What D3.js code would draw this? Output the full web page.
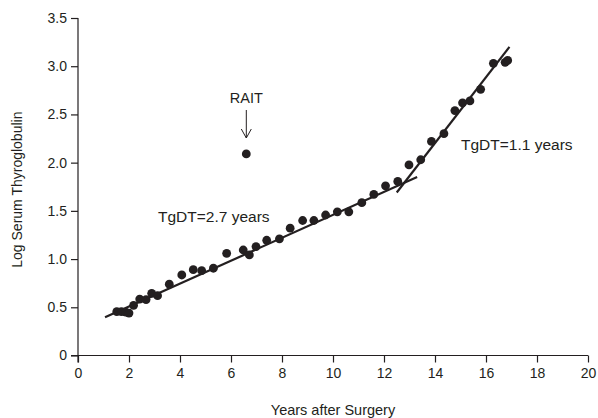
<!DOCTYPE html>
<html>
<head>
<meta charset="utf-8">
<script src="https://cdn.jsdelivr.net/npm/d3@7"></script>
<style>
  body { margin: 0; background: #fff; }
  svg text { font-family: "Liberation Sans", Arial, sans-serif; fill: #231f20; }
  .axis path, .axis line { stroke: #231f20; stroke-width: 1.2; }
  .axis text { font-size: 14px; }
</style>
</head>
<body>
<div id="chart"></div>
<script>
// years after surgery and log serum thyroglobulin
var years = [1.52, 1.7, 1.87, 2.0, 2.18, 2.42, 2.67, 2.89, 3.12, 3.58, 4.07, 4.52, 4.85, 5.31,
             5.83, 6.48, 6.72, 6.98, 7.4, 7.9, 8.32, 8.81, 9.25, 9.71, 10.17, 10.62, 11.13,
             11.6, 12.06, 12.54, 12.98, 13.44, 13.86, 14.35, 14.78, 15.08, 15.37, 15.79,
             16.29, 16.75, 16.85];
var logTg = [0.455, 0.455, 0.45, 0.44, 0.52, 0.585, 0.58, 0.645, 0.62, 0.74, 0.835, 0.89, 0.88, 0.905,
             1.06, 1.094, 1.043, 1.13, 1.195, 1.21, 1.32, 1.40, 1.40, 1.457, 1.49, 1.49, 1.585,
             1.67, 1.76, 1.805, 1.976, 2.03, 2.22, 2.30, 2.54, 2.62, 2.64, 2.76,
             3.03, 3.04, 3.06];
var raitPoint = [6.6, 2.09];
// fitted regression segments [x0, y0, x1, y1]
var fitSlow = [1.06, 0.396, 13.3, 1.85];
var fitFast = [12.5, 1.69, 16.92, 3.2];
var xTicks = [0, 2, 4, 6, 8, 10, 12, 14, 16, 18, 20];
var yTicks = [0, 0.5, 1.0, 1.5, 2.0, 2.5, 3.0, 3.5];

var width = 598, height = 418;
var margin = {top: 18, right: 10, bottom: 62.5, left: 78};

var x = d3.scaleLinear().domain([0, 20]).range([margin.left, 588]);
var y = d3.scaleLinear().domain([0, 3.5]).range([height - margin.bottom, margin.top]);

var svg = d3.select("#chart").append("svg")
    .attr("width", width)
    .attr("height", height);

svg.append("g")
    .attr("class", "axis")
    .attr("transform", "translate(0," + y(0) + ")")
    .call(d3.axisBottom(x).tickValues(xTicks).tickSize(7).tickSizeOuter(0).tickPadding(6))
    .call(g => g.select(".domain").attr("d", "M" + (x(0) - 7) + ",0H" + x(20)));

svg.append("g")
    .attr("class", "axis")
    .attr("transform", "translate(" + x(0) + ",0)")
    .call(d3.axisLeft(y).tickValues(yTicks).tickSize(7).tickSizeOuter(0).tickPadding(4)
        .tickFormat(d => d === 0 ? "0" : d3.format(".1f")(d)))
    .call(g => g.select(".domain").attr("d", "M0," + y(3.5) + "V" + (y(0) + 7)));

svg.append("text")
    .attr("x", (x(0) + x(20)) / 2)
    .attr("y", 415)
    .attr("text-anchor", "middle")
    .style("font-size", "14.5px")
    .text("Years after Surgery");

svg.append("text")
    .attr("transform", "translate(22," + y(1.72) + ") rotate(-90)")
    .attr("text-anchor", "middle")
    .style("font-size", "14px")
    .text("Log Serum Thyroglobulin");

[fitSlow, fitFast].forEach(function(f) {
    svg.append("line")
        .attr("x1", x(f[0])).attr("y1", y(f[1]))
        .attr("x2", x(f[2])).attr("y2", y(f[3]))
        .attr("stroke", "#231f20")
        .attr("stroke-width", 2.2);
});

svg.selectAll(".pt")
    .data(years)
    .enter()
    .append("circle")
    .attr("class", "pt")
    .attr("cx", d => x(d))
    .attr("cy", (d, i) => y(logTg[i]))
    .attr("r", 4.4)
    .attr("fill", "#231f20");

svg.append("circle")
    .attr("cx", x(raitPoint[0]))
    .attr("cy", y(raitPoint[1]))
    .attr("r", 4.4)
    .attr("fill", "#231f20");

// RAIT label and arrow
var ax = x(raitPoint[0]);
svg.append("text")
    .attr("x", ax)
    .attr("y", 103)
    .attr("text-anchor", "middle")
    .style("font-size", "14.5px")
    .text("RAIT");
svg.append("line")
    .attr("x1", ax).attr("y1", 110)
    .attr("x2", ax).attr("y2", 138)
    .attr("stroke", "#231f20").attr("stroke-width", 1);
svg.append("path")
    .attr("d", "M" + (ax - 5) + ",129L" + ax + ",138L" + (ax + 5) + ",129")
    .attr("fill", "none")
    .attr("stroke", "#231f20").attr("stroke-width", 1);

svg.append("text")
    .attr("x", 158)
    .attr("y", 222)
    .style("font-size", "15.5px")
    .text("TgDT=2.7 years");

svg.append("text")
    .attr("x", 461)
    .attr("y", 150)
    .style("font-size", "15.5px")
    .text("TgDT=1.1 years");
</script>
</body>
</html>
